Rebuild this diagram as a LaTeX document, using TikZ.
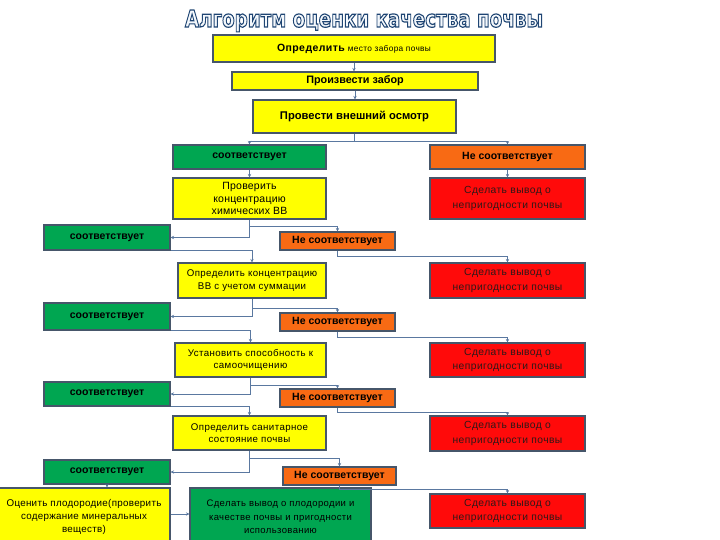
\documentclass[tikz,border=0pt]{standalone}
\usepackage{fontspec}
\setmainfont{Liberation Sans}
\newfontfamily\ttlfont{DejaVu Sans}
\usetikzlibrary{arrows.meta}
\definecolor{byel}{HTML}{FFFF00}
\definecolor{bgreen}{HTML}{00A651}
\definecolor{borange}{HTML}{F86A14}
\definecolor{bred}{HTML}{FF0A0A}
\definecolor{bord}{HTML}{46566A}
\definecolor{lcol}{HTML}{5A78A0}
\definecolor{rtext}{HTML}{301818}
\definecolor{ttlfill}{HTML}{F4F8FC}
\newcommand{\ttlbox}{\resizebox{358pt}{17pt}{\ttlfont\bfseries\color{ttlfill}\special{pdf:literal direct 0.12 0.27 0.45 RG 2 Tr 0.5 w}Алгоритм оценки качества почвы\special{pdf:literal direct 0 Tr 1 w}}}
\begin{document}
\begin{tikzpicture}[x=1pt,y=-1pt,
  box/.style={draw=bord, line width=1.1pt, inner sep=1pt, align=center,
    font=\fontsize{9.7}{12.5}\selectfont\addfontfeatures{LetterSpace=4}},
  ybox/.style={box, fill=byel},
  gbox/.style={box, fill=bgreen, font=\bfseries\fontsize{10.5}{12}\selectfont},
  obox/.style={box, fill=borange, font=\bfseries\fontsize{10.5}{12}\selectfont},
  rbox/.style={box, fill=bred, text=rtext, font=\fontsize{10.3}{14.5}\selectfont\addfontfeatures{LetterSpace=4}},
  lnk/.style={draw=lcol, line width=0.9pt},
  conn/.style={lnk, -{Stealth[length=3.5pt,width=3.5pt]}}]
\clip (0,0) rectangle (720,540);
\useasboundingbox (0,0) rectangle (720,540);
% title (outlined)
\node[inner sep=0pt, anchor=base] (title) at (364,27) {\ttlbox};
% top chain
\node[ybox, minimum width=282pt, minimum height=27pt] (n1) at (354,48.5) {{\bfseries\fontsize{10.5}{12}\selectfont Определить} {\fontsize{8.3}{9}\selectfont место забора почвы}};
\node[ybox, minimum width=246pt, minimum height=18pt, font=\bfseries\fontsize{10.8}{12}\selectfont] (n2) at (355,81) {Произвести забор};
\node[ybox, minimum width=203pt, minimum height=33pt, font=\bfseries\fontsize{11.2}{12}\selectfont] (n3) at (354.5,116.5) {Провести внешний осмотр};
% row 1
\node[gbox, minimum width=153pt, minimum height=24pt] (g1) at (249.5,157) {соответствует};
\node[obox, minimum width=155pt, minimum height=24pt] (o1) at (507.5,157) {Не соответствует};
\node[ybox, minimum width=153pt, minimum height=41pt, font=\fontsize{10.5}{12.5}\selectfont\addfontfeatures{LetterSpace=2}] (y1) at (249.5,198.5) {Проверить\\концентрацию\\химических ВВ};
\node[rbox, minimum width=155pt, minimum height=41pt] (r1) at (507.5,198.5) {Сделать вывод о\\непригодности почвы};
% row 2
\node[gbox, minimum width=126pt, minimum height=25pt] (g2) at (107,237.5) {соответствует};
\node[obox, minimum width=115pt, minimum height=18pt] (o2) at (337.5,241) {Не соответствует};
\node[ybox, minimum width=148pt, minimum height=35pt] (y2) at (252,280.5) {Определить концентрацию\\ВВ с учетом суммации};
\node[rbox, minimum width=155pt, minimum height=35pt] (r2) at (507.5,280.5) {Сделать вывод о\\непригодности почвы};
% row 3
\node[gbox, minimum width=126pt, minimum height=27pt] (g3) at (107,316.5) {соответствует};
\node[obox, minimum width=115pt, minimum height=18pt] (o3) at (337.5,322) {Не соответствует};
\node[ybox, minimum width=151pt, minimum height=34pt] (y3) at (250.5,360) {Установить способность к\\самоочищению};
\node[rbox, minimum width=155pt, minimum height=34pt] (r3) at (507.5,360) {Сделать вывод о\\непригодности почвы};
% row 4
\node[gbox, minimum width=126pt, minimum height=24pt] (g4) at (107,394) {соответствует};
\node[obox, minimum width=115pt, minimum height=18pt] (o4) at (337.5,398) {Не соответствует};
\node[ybox, minimum width=153pt, minimum height=34pt] (y4) at (249.5,433) {Определить санитарное\\состояние почвы};
\node[rbox, minimum width=155pt, minimum height=35pt] (r4) at (507.5,433.5) {Сделать вывод о\\непригодности почвы};
% row 5
\node[gbox, minimum width=126pt, minimum height=24pt] (g5) at (107,472) {соответствует};
\node[obox, minimum width=113pt, minimum height=18pt] (o5) at (339.5,476) {Не соответствует};
\node[ybox, minimum width=172pt, minimum height=58pt, font=\fontsize{9.8}{13}\selectfont\addfontfeatures{LetterSpace=3}] (y5) at (84,517) {Оценить плодородие(проверить\\содержание минеральных\\веществ)};
\node[box, fill=bgreen, minimum width=181pt, minimum height=58pt, font=\fontsize{9.5}{13.5}\selectfont\addfontfeatures{LetterSpace=4}] (gr) at (280.5,517) {Сделать вывод о плодородии и\\качестве почвы и пригодности\\использованию};
\node[rbox, minimum width=155pt, minimum height=34pt] (r5) at (507.5,511) {Сделать вывод о\\непригодности почвы};
% connectors
\draw[conn] (n1.south) -- (n1.south |- n2.north);
\draw[conn] (n2.south) -- (n2.south |- n3.north);
\coordinate (s3) at (354.5,141);
\draw[lnk] (n3.south) -- (s3);
\draw[conn] (s3) -| (g1.north);
\draw[conn] (s3) -| (o1.north);
\draw[conn] (g1) -- (y1);
\draw[conn] (o1) -- (r1);
% row 2
\draw[conn] (y1.south) |- (g2.east);
\draw[conn] ([yshift=-7pt]y1.south) -| (o2.north);
\draw[conn] (o2.south) -- ++(0,6) -| (r2.north);
\draw[conn] (g2.south east) -| (y2.north);
% row 3
\draw[conn] (y2.south) |- (g3.east);
\draw[conn] ([yshift=-10pt]y2.south) -| (o3.north);
\draw[conn] (o3.south) -- ++(0,6) -| (r3.north);
\draw[conn] (g3.south east) -| (y3.north);
% row 4
\draw[conn] (y3.south) |- (g4.east);
\draw[conn] ([yshift=-8pt]y3.south) -| (o4.north);
\draw[conn] (o4.south) -- ++(0,5) -| (r4.north);
\draw[conn] (g4.south east) -| (y4.north);
% row 5
\draw[conn] (y4.south) |- (g5.east);
\draw[conn] ([yshift=-8pt]y4.south) -| (o5.north);
\draw[conn] (o5.south) -- ++(0,4) -| (r5.north);
\draw[conn] (g5.south) -- (g5.south |- y5.north);
\draw[conn] ([yshift=3pt]y5.east) -- ([yshift=3pt]gr.west);
\end{tikzpicture}
\end{document}
